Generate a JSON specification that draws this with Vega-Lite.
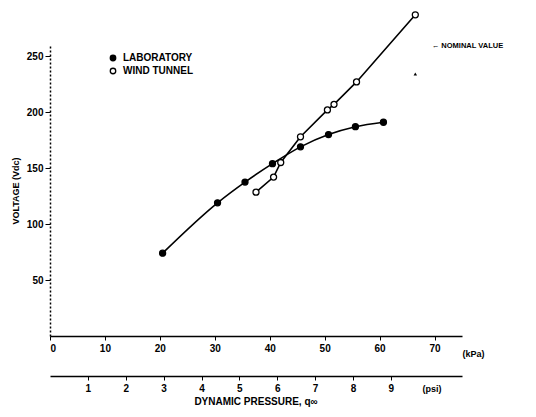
{
  "$schema": "https://vega.github.io/schema/vega-lite/v6.json",
  "width": 412,
  "height": 291,
  "autosize": "none",
  "padding": {"left": 50, "top": 45, "right": 74, "bottom": 81},
  "background": "white",
  "config": {
    "view": {"stroke": null},
    "font": "Liberation Sans",
    "axis": {"labelFont": "Liberation Sans", "labelFontWeight": "bold", "labelFontSize": 10, "labelColor": "black", "domainColor": "black", "tickColor": "black", "grid": false, "titleFont": "Liberation Sans", "titleFontWeight": "bold", "titleFontSize": 9, "titleColor": "black"}
  },
  "title": {"text": "DYNAMIC PRESSURE, q∞", "orient": "bottom", "anchor": "middle", "offset": 4, "fontSize": 10, "fontWeight": "bold", "font": "Liberation Sans", "color": "black"},
  "datasets": {
    "pts": [
      {"series": "LABORATORY", "kPa": 20.5, "V": 74},
      {"series": "LABORATORY", "kPa": 30.5, "V": 119},
      {"series": "LABORATORY", "kPa": 35.5, "V": 137.5},
      {"series": "LABORATORY", "kPa": 40.5, "V": 154},
      {"series": "LABORATORY", "kPa": 45.6, "V": 169},
      {"series": "LABORATORY", "kPa": 50.7, "V": 180},
      {"series": "LABORATORY", "kPa": 55.6, "V": 187},
      {"series": "LABORATORY", "kPa": 60.7, "V": 191},
      {"series": "WIND TUNNEL", "kPa": 37.5, "V": 128.5},
      {"series": "WIND TUNNEL", "kPa": 40.7, "V": 142},
      {"series": "WIND TUNNEL", "kPa": 42, "V": 155},
      {"series": "WIND TUNNEL", "kPa": 45.6, "V": 178},
      {"series": "WIND TUNNEL", "kPa": 50.5, "V": 202},
      {"series": "WIND TUNNEL", "kPa": 51.7, "V": 207},
      {"series": "WIND TUNNEL", "kPa": 55.8, "V": 227},
      {"series": "WIND TUNNEL", "kPa": 66.5, "V": 287}
    ],
    "notes": [
      {"label": "←  NOMINAL VALUE", "kPa": 69.5, "V": 259}
    ],
    "marker": [
      {"kPa": 66.5, "V": 234}
    ]
  },
  "layer": [
    {
      "layer": [
        {
          "data": {"name": "pts"},
          "transform": [{"filter": "datum.series === 'LABORATORY'"}],
          "mark": {"type": "line", "color": "black", "strokeWidth": 1.6, "interpolate": "monotone"},
          "encoding": {
            "x": {"field": "kPa", "type": "quantitative", "scale": {"domain": [0, 75], "nice": false},
              "axis": {"values": [0, 10, 20, 30, 40, 50, 60, 70], "format": "d", "tickSize": 4, "labelPadding": 3, "domainWidth": 1.5, "title": "(kPa)", "titleX": 412, "titleY": 17, "titleAlign": "left", "titleBaseline": "middle", "titleAngle": 0}},
            "y": {"field": "V", "type": "quantitative", "scale": {"domain": [0, 260], "nice": false},
              "axis": {"values": [50, 100, 150, 200, 250], "tickSize": 5, "labelPadding": 2, "domainDash": [2, 2], "domainWidth": 1.5, "title": "VOLTAGE (Vdc)", "titlePadding": 6}}
          }
        },
        {
          "data": {"name": "pts"},
          "transform": [{"filter": "datum.series === 'WIND TUNNEL'"}],
          "mark": {"type": "line", "color": "black", "strokeWidth": 1.6},
          "encoding": {
            "x": {"field": "kPa", "type": "quantitative"},
            "y": {"field": "V", "type": "quantitative"}
          }
        },
        {
          "data": {"name": "pts"},
          "mark": {"type": "point", "stroke": "black", "strokeWidth": 1.3, "opacity": 1, "size": 36, "shape": "circle"},
          "encoding": {
            "x": {"field": "kPa", "type": "quantitative"},
            "y": {"field": "V", "type": "quantitative"},
            "fill": {"field": "series", "type": "nominal", "scale": {"domain": ["LABORATORY", "WIND TUNNEL"], "range": ["black", "white"]},
              "legend": {"title": null, "orient": "none", "legendX": 58, "legendY": 8, "labelFont": "Liberation Sans", "labelFontWeight": "bold", "labelFontSize": 10, "labelColor": "black", "symbolStrokeColor": "black", "symbolStrokeWidth": 1.3, "symbolSize": 30, "rowPadding": 1, "labelOffset": 5}}
          }
        },
        {
          "data": {"name": "notes"},
          "mark": {"type": "text", "align": "left", "baseline": "middle", "fontSize": 7.5, "fontWeight": "bold", "font": "Liberation Sans", "color": "black"},
          "encoding": {
            "x": {"field": "kPa", "type": "quantitative"},
            "y": {"field": "V", "type": "quantitative"},
            "text": {"field": "label"}
          }
        },
        {
          "data": {"name": "marker"},
          "mark": {"type": "point", "shape": "triangle-up", "filled": true, "color": "black", "size": 12, "opacity": 1},
          "encoding": {
            "x": {"field": "kPa", "type": "quantitative"},
            "y": {"field": "V", "type": "quantitative"}
          }
        }
      ]
    },
    {
      "data": {"values": [{}]},
      "mark": {"type": "point", "opacity": 0},
      "encoding": {
        "x": {"datum": 0, "type": "quantitative", "scale": {"domain": [0, 10.877], "nice": false},
          "axis": {"orient": "bottom", "offset": 40, "values": [1, 2, 3, 4, 5, 6, 7, 8, 9], "format": "d", "tickSize": 4, "labelPadding": 3, "domainWidth": 1.5, "title": "(psi)", "titleX": 372, "titleY": 12, "titleAlign": "left", "titleBaseline": "middle", "titleAngle": 0}}
      }
    }
  ],
  "resolve": {"scale": {"x": "independent"}, "axis": {"x": "independent"}}
}
